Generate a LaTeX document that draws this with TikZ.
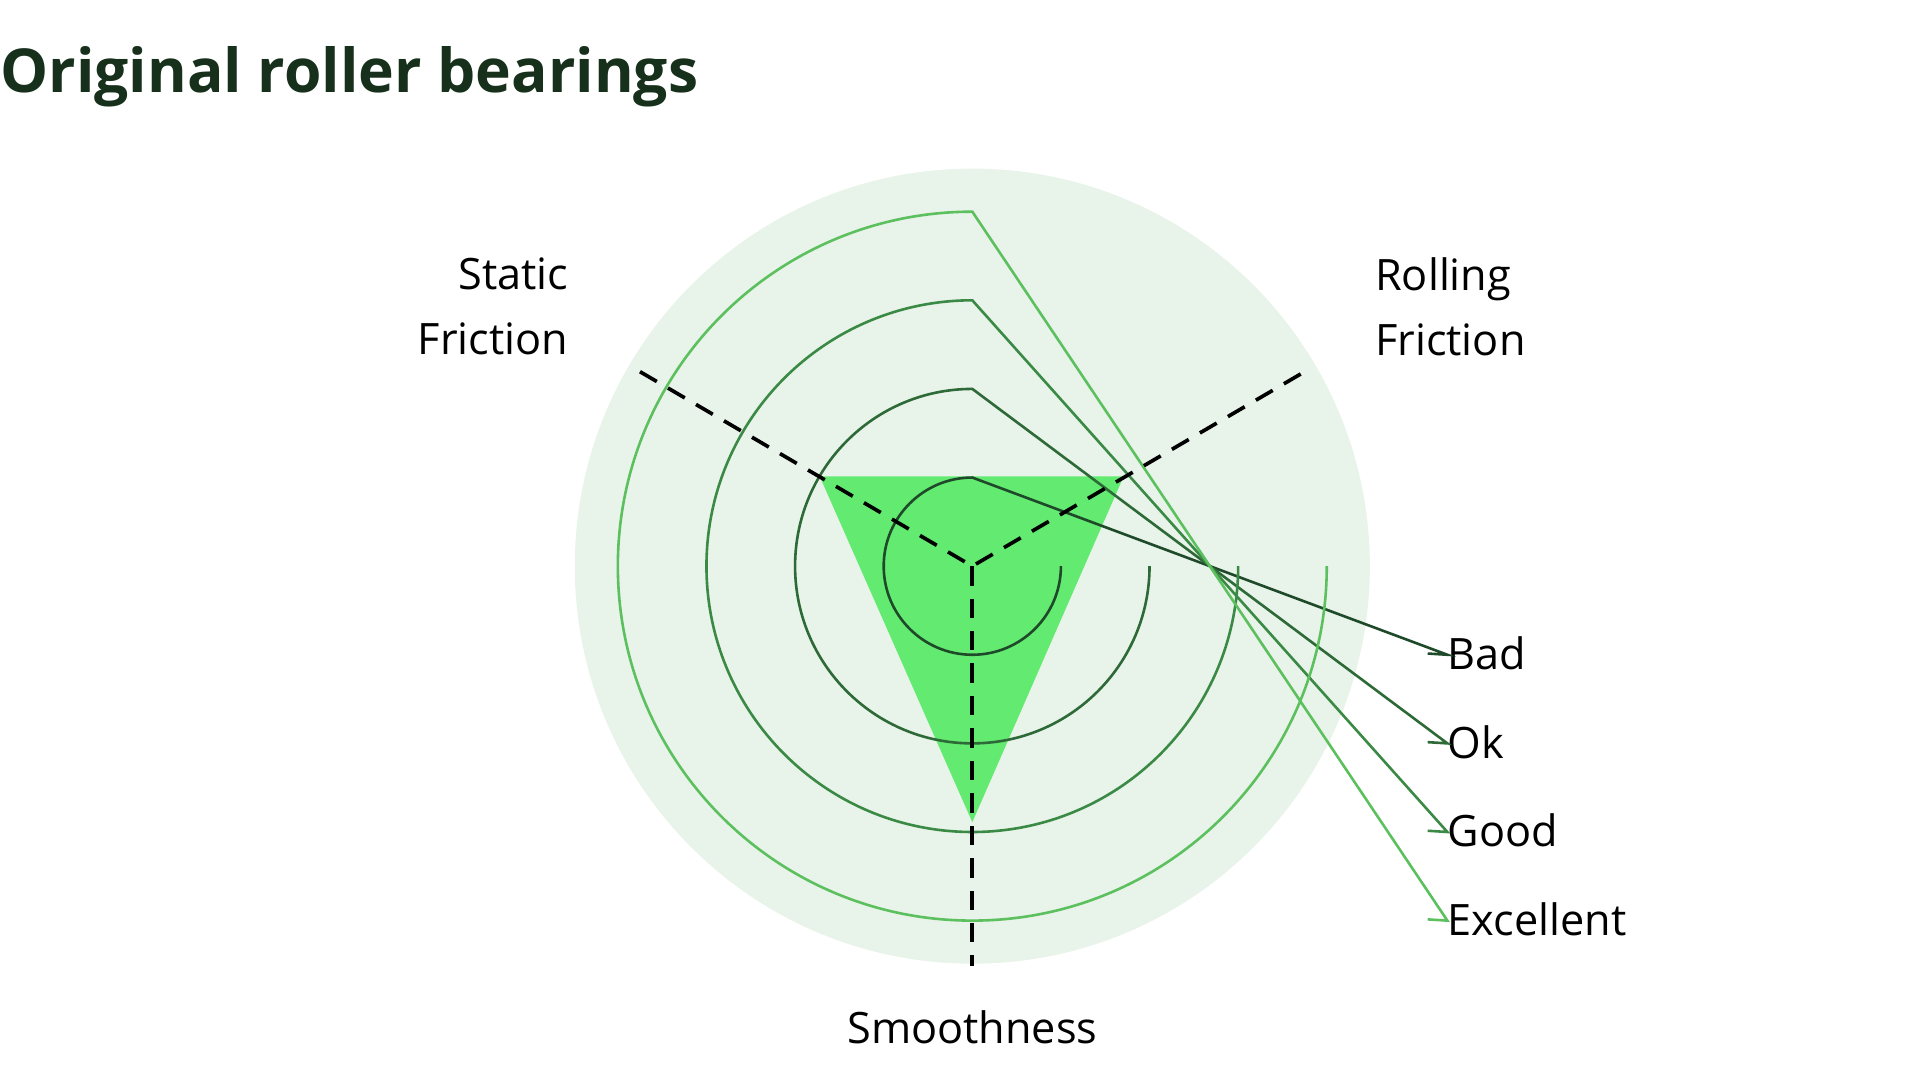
\documentclass[tikz,border=0pt]{standalone}
\usepackage{fontspec}
\setmainfont{Open Sans}
\begin{document}
\begin{tikzpicture}[x=0.02cm,y=-0.02cm,
  lbl/.style={font=\fontsize{20}{24}\selectfont, inner sep=0pt},
  axis/.style={dashed, line width=1.7pt, dash pattern=on 9pt off 6pt},
  ring/.style={line width=1.2pt}]
\definecolor{bg}{HTML}{E8F3E9}
\definecolor{tri}{HTML}{62EA71}
\definecolor{cbad}{HTML}{1E4A2A}
\definecolor{cok}{HTML}{2D6A38}
\definecolor{cgood}{HTML}{3A8A45}
\definecolor{cexc}{HTML}{5CC05F}
\definecolor{title}{HTML}{17301C}
\useasboundingbox (0,0) rectangle (1560,878);
\coordinate (c) at (790,460);
\fill[bg] (c) circle[radius=323*0.02cm];
\fill[tri] (666,387) -- (913,387) -- (790,668) -- cycle;
\node[lbl, anchor=west] (bad) at (1176,531) {Bad};
\node[lbl, anchor=west] (ok) at (1176,603) {Ok};
\node[lbl, anchor=west] (good) at (1176,675) {Good};
\node[lbl, anchor=west] (exc) at (1176,747) {Excellent};
\foreach \r/\col/\n in {72/cbad/bad,144/cok/ok,216/cgood/good,288/cexc/exc}{
  \draw[ring,\col] (790+\r,460) arc[start angle=0,end angle=-270,radius=\r*0.02cm] -- (bad.west |- {(0,460+\r)}) -- ([xshift=-16*0.02cm]\n.west);
}
\coordinate (sl) at (520,302);
\coordinate (rl) at (1060,302);
\coordinate (sm) at (790,785);
\draw[axis] (sl) -- (c) -- (rl);
\draw[axis] (c) -- (sm);
\node[lbl, anchor=east, align=right] (sf) at (462,249) {Static\\[6pt]Friction};
\node[lbl, anchor=west, align=left] (rf) at (1117,249) {Rolling\\[6pt]Friction};
\node[lbl] (smooth) at (790,835) {Smoothness};
\node[anchor=west, inner sep=0pt, text=title, font=\fontsize{28}{32}\selectfont\bfseries] (t) at (0,62) {Original roller bearings};
\end{tikzpicture}
\end{document}
